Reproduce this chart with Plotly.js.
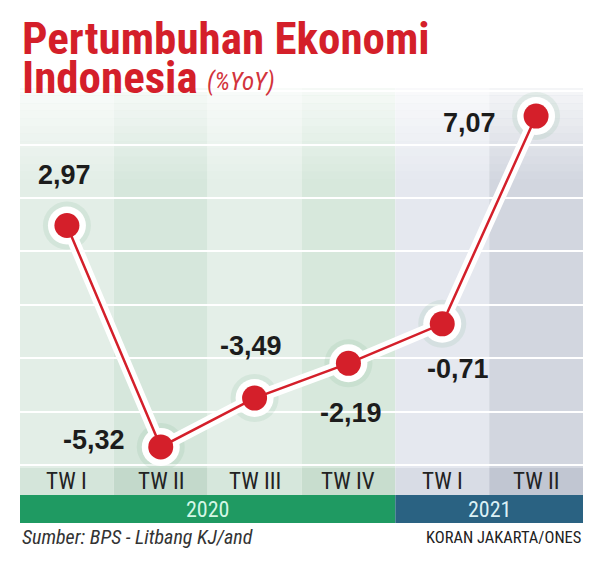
<!DOCTYPE html>
<html>
<head>
<meta charset="utf-8">
<script src="https://cdn.plot.ly/plotly-3.0.1.min.js"></script>
<style>html,body{margin:0;padding:0;background:#fff;}#chart{width:600px;height:577px;}</style>
</head>
<body>
<div id="chart"></div>
<script>
// ---- data ----
var quarters = ['TW I', 'TW II', 'TW III', 'TW IV', 'TW I', 'TW II'];
var growth = [2.97, -5.32, -3.49, -2.19, -0.71, 7.07];
var years = ['2020', '2021'];
var yearQuarterCount = [4, 2];
var titleLine1 = 'Pertumbuhan Ekonomi';
var titleLine2 = 'Indonesia';
var titleUnit = '(%YoY)';
var sourceText = 'Sumber: BPS - Litbang KJ/and';
var creditText = 'KORAN JAKARTA/ONES';

// ---- styles ----
var colFill = ['#e3eee7', '#d6e7dc', '#e4efe8', '#d7e8dc', '#e5e8ef', '#d2d6df'];
var boxFill = ['#d4e5da', '#c3d9cb', '#d6e7dc', '#c8ddce', '#d8dce5', '#c1c6d2'];
var yearFill = ['#1f9a62', '#2a6282'];
var yearText = ['#d4f7e6', '#dcf1f6'];
var labelShift = [[-2, -51], [-67, -7], [-4, -52], [3, 50], [16, 45], [-67, 7]];
var NARROW = '"Liberation Sans Narrow", "Roboto Condensed", "DejaVu Sans Condensed", Arial, sans-serif';
var SANS = '"Liberation Sans", Arial, sans-serif';
var RED = '#d41f2a';

var xs = quarters.map(function (q, i) { return i; });
var plotBottomPx = 468, plotHeightPx = 380;
function py(px) { return (plotBottomPx - px) / plotHeightPx; }

var shapes = [];
var annotations = [];

// column backgrounds
xs.forEach(function (i) {
  shapes.push({type: 'rect', layer: 'below', xref: 'x', yref: 'paper', x0: i - 0.5, x1: i + 0.5, y0: 0, y1: 1,
    fillcolor: colFill[i], line: {width: 0}});
});
// top fade
var strips = 12;
for (var s = 0; s < strips; s++) {
  shapes.push({type: 'rect', layer: 'below', xref: 'paper', yref: 'paper', x0: 0, x1: 1,
    y0: 1 - (s + 1) * 0.02, y1: 1 - s * 0.02, fillcolor: '#ffffff', opacity: 0.75 * (1 - s / strips),
    line: {width: 0}});
}
// quarter boxes
xs.forEach(function (i) {
  shapes.push({type: 'rect', xref: 'x', yref: 'paper', x0: i - 0.5, x1: i + 0.5, y0: py(495), y1: py(468),
    fillcolor: boxFill[i], line: {width: 0}});
  annotations.push({xref: 'x', yref: 'paper', x: i, y: py(482), text: quarters[i], showarrow: false,
    xanchor: 'center', yanchor: 'middle', font: {family: NARROW, size: 23, color: '#222222'}});
});
// year bars
var start = -0.5;
years.forEach(function (yr, k) {
  var end = start + yearQuarterCount[k];
  shapes.push({type: 'rect', xref: 'x', yref: 'paper', x0: start, x1: end, y0: py(523), y1: py(495),
    fillcolor: yearFill[k], line: {width: 0}});
  annotations.push({xref: 'x', yref: 'paper', x: (start + end) / 2, y: py(509), text: yr, showarrow: false,
    xanchor: 'center', yanchor: 'middle', font: {family: NARROW, size: 22, color: yearText[k]}});
  start = end;
});

// data labels
growth.forEach(function (v, i) {
  annotations.push({xref: 'x', yref: 'y', x: i, y: v, text: v.toFixed(2).replace('.', ','), showarrow: false,
    xanchor: 'center', yanchor: 'middle', xshift: labelShift[i][0], yshift: -labelShift[i][1],
    font: {family: SANS, size: 27, color: '#1c1c1c', weight: 'bold'}});
});

// titles
annotations.push({xref: 'paper', yref: 'paper', x: 0, y: py(39), xanchor: 'left', yanchor: 'middle',
  text: '<b>' + titleLine1 + '</b>', showarrow: false, font: {family: NARROW, size: 45, color: RED}});
annotations.push({xref: 'paper', yref: 'paper', x: 0, y: py(77), xanchor: 'left', yanchor: 'middle',
  text: '<b>' + titleLine2 + '</b>', showarrow: false, font: {family: NARROW, size: 45, color: RED}});
annotations.push({xref: 'paper', yref: 'paper', x: (205 - 20) / 563, y: py(81), xanchor: 'left', yanchor: 'middle',
  text: '<i>' + titleUnit + '</i>', showarrow: false, font: {family: NARROW, size: 25, color: '#d2343c'}});
// source
annotations.push({xref: 'paper', yref: 'paper', x: 0, y: py(537), xanchor: 'left', yanchor: 'middle',
  text: '<i>' + sourceText + '</i>', showarrow: false, font: {family: NARROW, size: 20, color: '#333333'}});
annotations.push({xref: 'paper', yref: 'paper', x: 1, y: py(537), xanchor: 'right', yanchor: 'middle',
  text: creditText, showarrow: false, font: {family: NARROW, size: 16.5, color: '#222222'}});

var traces = [
  {x: xs, y: growth, type: 'scatter', mode: 'markers', hoverinfo: 'skip',
    marker: {size: 48, color: 'rgba(110,170,135,0.13)', line: {width: 0}}},
  {x: xs, y: growth, type: 'scatter', mode: 'lines+markers', hoverinfo: 'skip',
    line: {color: '#ffffff', width: 12}, marker: {size: 38, color: '#ffffff', line: {width: 0}}},
  {x: xs, y: growth, type: 'scatter', mode: 'lines+markers',
    line: {color: RED, width: 2.5}, marker: {size: 25, color: RED, line: {width: 0}}}
];

var layout = {
  width: 600, height: 577,
  margin: {l: 20, r: 17, t: 88, b: 109},
  paper_bgcolor: '#ffffff', plot_bgcolor: '#ffffff',
  showlegend: false,
  xaxis: {range: [-0.5, 5.5], showgrid: false, zeroline: false, showticklabels: false, fixedrange: true},
  yaxis: {range: [-6.11, 8.12], dtick: 2, tick0: 0, showgrid: true, gridcolor: '#ffffff', gridwidth: 2,
    zeroline: false, showticklabels: false, fixedrange: true},
  shapes: shapes,
  annotations: annotations
};

Plotly.newPlot('chart', traces, layout, {displayModeBar: false, staticPlot: true});
</script>
</body>
</html>
